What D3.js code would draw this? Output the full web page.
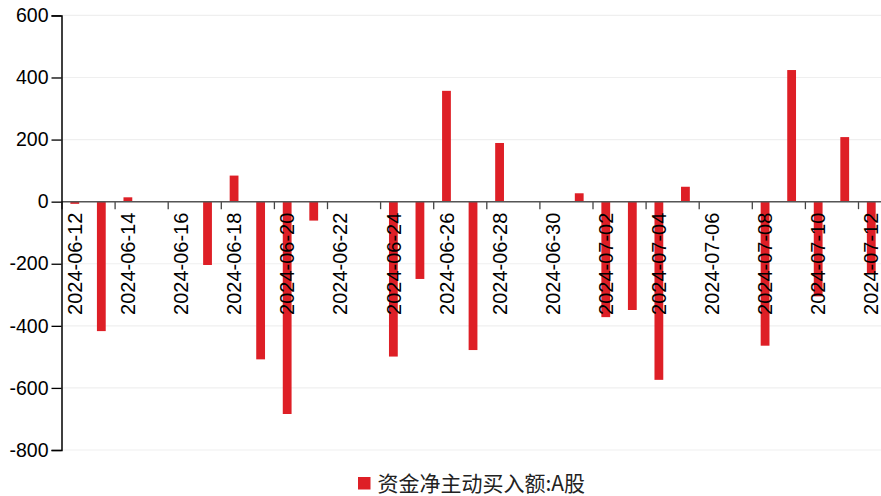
<!DOCTYPE html>
<html>
<head>
<meta charset="utf-8">
<script src="https://cdn.jsdelivr.net/npm/d3@7"></script>
<style>
  html, body { margin: 0; padding: 0; background: #fff; }
  svg { display: block; }
</style>
</head>
<body>
<svg id="chart" width="881" height="496"></svg>
<script>
// Trading days and daily net active buying (A shares)
const dates = ["2024-06-12","2024-06-13","2024-06-14","2024-06-17","2024-06-18","2024-06-19",
  "2024-06-20","2024-06-21","2024-06-24","2024-06-25","2024-06-26","2024-06-27","2024-06-28",
  "2024-07-01","2024-07-02","2024-07-03","2024-07-04","2024-07-05","2024-07-08","2024-07-09",
  "2024-07-10","2024-07-11","2024-07-12"];
const values = [-7, -417, 14, -204, 84, -508, -684, -61, -499, -249, 357, -478, 189,
  27, -372, -349, -574, 48, -464, 424, -305, 208, -233];
const seriesName = "资金净主动买入额:A股";

// Axis ticks
const xTickLabels = ["2024-06-12","2024-06-14","2024-06-16","2024-06-18","2024-06-20","2024-06-22",
  "2024-06-24","2024-06-26","2024-06-28","2024-06-30","2024-07-02","2024-07-04","2024-07-06",
  "2024-07-08","2024-07-10","2024-07-12"];
const yTicks = [-800, -600, -400, -200, 0, 200, 400, 600];
const domainStart = "2024-06-12";
const domainEnd = "2024-07-13";

(function draw() {
  const parse = d3.utcParse("%Y-%m-%d");
  const fmt = d3.utcFormat("%Y-%m-%d");
  const red = "#de1f26";

  const svg = d3.select("#chart");
  const plotLeft = 61.5, plotTop = 15.4, plotBottom = 450;
  const dayPx = 26.55;

  const x = d3.scaleUtc()
    .domain([parse(domainStart), parse(domainEnd)])
    .range([plotLeft, plotLeft + 31 * dayPx]);
  const y = d3.scaleLinear().domain([-800, 600]).range([plotBottom, plotTop]);
  const noon = d => d3.utcHour.offset(parse(d), 12);

  // Horizontal grid
  svg.append("g")
    .selectAll("line")
    .data(yTicks)
    .join("line")
    .attr("x1", plotLeft).attr("x2", 881)
    .attr("y1", d => y(d)).attr("y2", d => y(d))
    .attr("stroke", "#efefef").attr("stroke-width", 1.2);

  // Bars centred on each trading day
  const barW = 8.8;
  svg.append("g")
    .selectAll("rect")
    .data(dates.map((d, i) => ({ d, v: values[i] })))
    .join("rect")
    .attr("x", p => x(noon(p.d)) - barW / 2)
    .attr("width", barW)
    .attr("y", p => y(Math.max(0, p.v)))
    .attr("height", p => Math.abs(y(p.v) - y(0)))
    .attr("fill", red);

  // Zero baseline with date ticks
  const y0 = y(0);
  const xAxis = d3.axisBottom(x)
    .tickValues(xTickLabels.map(parse))
    .tickSize(7.5)
    .tickFormat("");
  const gx = svg.append("g").attr("transform", `translate(0,${y0})`).call(xAxis);
  gx.select(".domain").remove();
  gx.selectAll(".tick line").attr("stroke", "#444").attr("stroke-width", 1.3);
  svg.append("line")
    .attr("x1", plotLeft).attr("x2", 881)
    .attr("y1", y0).attr("y2", y0)
    .attr("stroke", "#555").attr("stroke-width", 1.5);

  // Rotated date labels, centred on each day
  svg.append("g")
    .selectAll("text")
    .data(xTickLabels)
    .join("text")
    .attr("transform", d => `translate(${x(noon(d))},${y0 + 11}) rotate(-90)`)
    .attr("text-anchor", "end")
    .attr("dy", "0.36em")
    .attr("font-family", "'Liberation Sans', Arial, sans-serif")
    .attr("font-size", 20)
    .attr("fill", "#000")
    .text(d => fmt(parse(d)));

  // Value axis (plain hyphen for negatives)
  const yAxis = d3.axisLeft(y).tickValues(yTicks).tickSize(10).tickPadding(3).tickFormat(d => String(d));
  const gy = svg.append("g").attr("transform", `translate(${plotLeft},0)`).call(yAxis);
  gy.select(".domain").attr("stroke", "#000").attr("stroke-width", 1.5);
  gy.selectAll(".tick line").attr("stroke", "#000").attr("stroke-width", 1.3);
  gy.selectAll(".tick text")
    .attr("font-family", "'Liberation Sans', Arial, sans-serif")
    .attr("font-size", 19.5)
    .attr("fill", "#000");

  // Legend
  const lg = svg.append("g").attr("transform", "translate(358,477)");
  lg.append("rect").attr("width", 12.5).attr("height", 12.5).attr("fill", red);
  lg.append("text")
    .attr("x", 19.5).attr("y", 14)
    .attr("font-family", "'Noto Sans CJK SC', sans-serif")
    .attr("font-size", 21)
    .attr("fill", "#222")
    .text(seriesName);
})();
</script>
</body>
</html>
